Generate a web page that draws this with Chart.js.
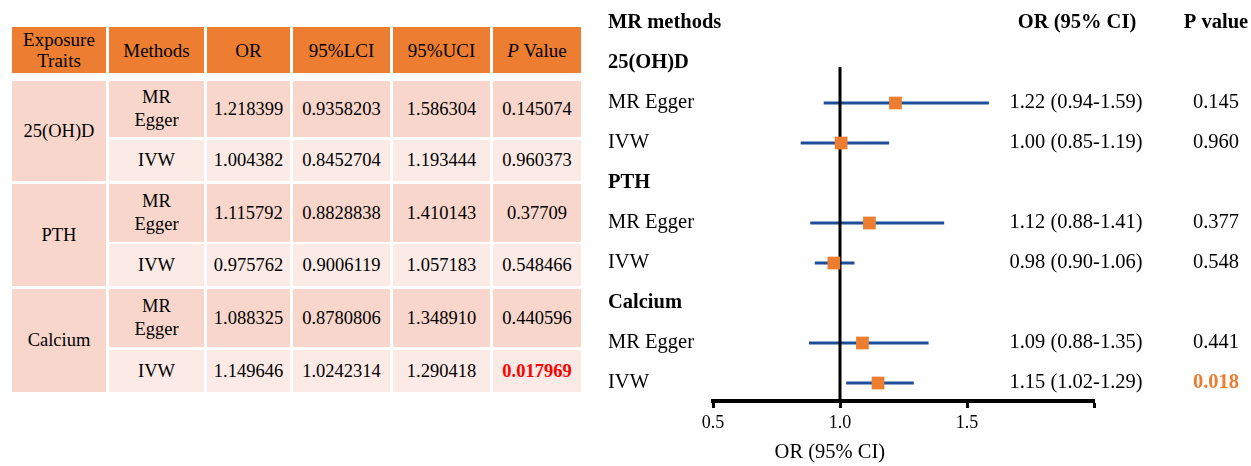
<!DOCTYPE html>
<html>
<head>
<meta charset="utf-8">
<script src="https://cdn.jsdelivr.net/npm/chart.js@4.4.0/dist/chart.umd.min.js"></script>
<style>
  html, body { margin: 0; padding: 0; background: #fff; }
  body { width: 1251px; height: 466px; position: relative; overflow: hidden;
         font-family: "Liberation Serif", "Times New Roman", serif; }
  .cell { position: absolute; display: flex; align-items: center; justify-content: center;
          text-align: center; font-size: 18.5px; line-height: 23px; color: #000; }
  .head { background: #ED7D31; font-size: 19px; line-height: 21px; }
  .dark { background: #F8D6CB; }
  .light { background: #FBEAE5; }
  #forest { position: absolute; left: 600px; top: 0; }
</style>
</head>
<body>
<div id="table"></div>
<canvas id="forest" width="651" height="466"></canvas>
<script>
// Table data
const traits = ["25(OH)D", "PTH", "Calcium"];
const methods = ["MR Egger", "IVW", "MR Egger", "IVW", "MR Egger", "IVW"];
const orText = ["1.218399", "1.004382", "1.115792", "0.975762", "1.088325", "1.149646"];
const lciText = ["0.9358203", "0.8452704", "0.8828838", "0.9006119", "0.8780806", "1.0242314"];
const uciText = ["1.586304", "1.193444", "1.410143", "1.057183", "1.348910", "1.290418"];
const pText = ["0.145074", "0.960373", "0.37709", "0.548466", "0.440596", "0.017969"];
const headers = ["Exposure<br>Traits", "Methods", "OR", "95%LCI", "95%UCI", "<i>P</i> Value"];

// Forest plot row positions (0 = header row)
const groupRows = [1, 4, 7];
const methodRows = [2, 3, 5, 6, 8, 9];

// Table layout
const colX = [12, 109, 207, 293, 393, 493];
const colW = [94, 95, 83, 97, 97, 88];
const rowTop = [81, 140, 184, 244, 289, 350];
const rowH = [56, 41, 58, 42, 58, 42];

function addCell(x, y, w, h, html, cls, style) {
  const d = document.createElement("div");
  d.className = "cell " + cls;
  d.style.left = x + "px";
  d.style.top = y + "px";
  d.style.width = w + "px";
  d.style.height = h + "px";
  d.innerHTML = "<span>" + html + "</span>";
  if (style) Object.assign(d.style, style);
  document.getElementById("table").appendChild(d);
}

// Build the table
headers.forEach((h, c) => addCell(colX[c], 27, colW[c], 46, h, "head"));
traits.forEach((t, g) => {
  const top = rowTop[2 * g];
  const bottom = rowTop[2 * g + 1] + rowH[2 * g + 1];
  addCell(colX[0], top, colW[0], bottom - top, t, "dark");
});
methods.forEach((m, i) => {
  const cls = i % 2 === 0 ? "dark" : "light";
  const label = m === "MR Egger" ? "MR<br>Egger" : m;
  const vals = [label, orText[i], lciText[i], uciText[i], pText[i]];
  vals.forEach((v, j) => {
    let style = null;
    if (j === 4 && Number(pText[i]) < 0.05) style = { color: "#FF0000", fontWeight: "bold" };
    addCell(colX[j + 1], rowTop[i], colW[j + 1], rowH[i], v, cls, style);
  });
});

// Forest plot
const serif = '"Liberation Serif", "Times New Roman", serif';
const orVals = orText.map(Number);
const lciVals = lciText.map(Number);
const uciVals = uciText.map(Number);
const pVals = pText.map(Number);

const forestPlugin = {
  id: "forest",
  beforeDatasetsDraw(chart) {
    const { ctx, scales: { x, y }, chartArea } = chart;
    ctx.save();
    // confidence intervals
    ctx.strokeStyle = "#1F4E98";
    ctx.lineWidth = 3;
    methodRows.forEach((r, i) => {
      const py = y.getPixelForValue(r);
      ctx.beginPath();
      ctx.moveTo(x.getPixelForValue(lciVals[i]), py);
      ctx.lineTo(x.getPixelForValue(uciVals[i]), py);
      ctx.stroke();
    });
    // reference line at OR = 1
    ctx.strokeStyle = "#000";
    ctx.lineWidth = 3;
    ctx.beginPath();
    ctx.moveTo(x.getPixelForValue(1), y.getPixelForValue(1.1));
    ctx.lineTo(x.getPixelForValue(1), chartArea.bottom);
    ctx.stroke();
    ctx.restore();
  },
  afterDraw(chart) {
    const { ctx, scales: { x, y } } = chart;
    ctx.save();
    ctx.fillStyle = "#000";
    ctx.textBaseline = "middle";
    // headers
    ctx.font = "bold 20.5px " + serif;
    ctx.textAlign = "left";
    ctx.fillText("MR methods", 8, y.getPixelForValue(0));
    ctx.textAlign = "center";
    ctx.fillText("OR (95% CI)", 477, y.getPixelForValue(0));
    ctx.fillText("P value", 616, y.getPixelForValue(0));
    // group labels
    ctx.textAlign = "left";
    groupRows.forEach((r, g) => ctx.fillText(traits[g], 8, y.getPixelForValue(r)));
    // method rows
    methodRows.forEach((r, i) => {
      const py = y.getPixelForValue(r);
      ctx.textAlign = "left";
      ctx.fillStyle = "#000";
      ctx.font = "20.5px " + serif;
      ctx.fillText(methods[i], 8, py);
      ctx.textAlign = "center";
      const ci = orVals[i].toFixed(2) + " (" + lciVals[i].toFixed(2) + "-" + uciVals[i].toFixed(2) + ")";
      ctx.fillText(ci, 476, py);
      if (pVals[i] < 0.05) {
        ctx.fillStyle = "#ED7D31";
        ctx.font = "bold 20.5px " + serif;
      }
      ctx.fillText(pVals[i].toFixed(3), 616, py);
    });
    // x axis title, placed left of centre as in the original
    ctx.fillStyle = "#000";
    ctx.font = "20.5px " + serif;
    ctx.textAlign = "center";
    ctx.fillText("OR (95% CI)", x.getPixelForValue(0.96), 453);
    ctx.restore();
  }
};

new Chart(document.getElementById("forest"), {
  type: "scatter",
  data: {
    datasets: [{
      data: methodRows.map((r, i) => ({ x: orVals[i], y: r })),
      pointStyle: "rect",
      pointRadius: 9,
      pointHoverRadius: 9,
      backgroundColor: "#ED7D31",
      borderColor: "#ED7D31",
      borderWidth: 0
    }]
  },
  options: {
    responsive: false,
    animation: false,
    devicePixelRatio: 1,
    layout: { autoPadding: false, padding: { left: 113, right: 157, top: 3, bottom: 0 } },
    plugins: { legend: { display: false }, tooltip: { enabled: false } },
    scales: {
      x: {
        type: "linear",
        position: "bottom",
        min: 0.5,
        max: 2.0,
        afterFit(scale) { scale.height = 65; },
        ticks: {
          stepSize: 0.5,
          color: "#000",
          padding: 4,
          font: { family: serif, size: 18 },
          callback: (v) => (v >= 2 ? "" : v.toFixed(1))
        },
        grid: { drawOnChartArea: false, drawTicks: true, tickLength: 7, tickWidth: 3, tickColor: "#000" },
        border: { display: true, color: "#000", width: 4 },
        title: { display: false }
      },
      y: {
        type: "linear",
        display: false,
        reverse: true,
        min: -0.5,
        max: 9.45
      }
    }
  },
  plugins: [forestPlugin]
});
</script>
</body>
</html>
